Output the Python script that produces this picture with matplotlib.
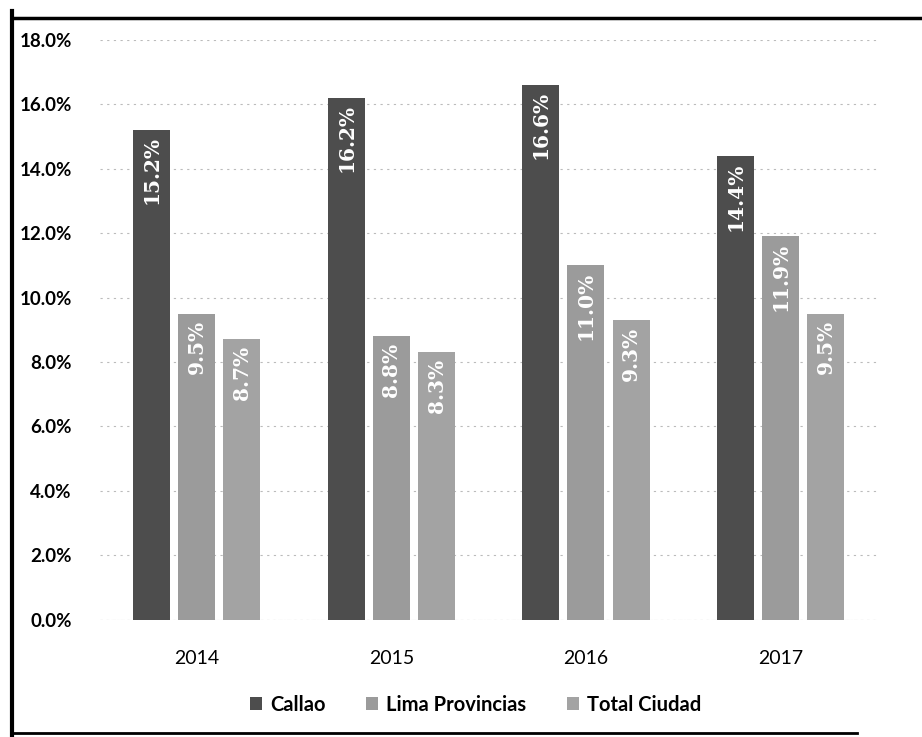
import matplotlib
matplotlib.use("Agg")
import matplotlib.pyplot as plt
import numpy as np
from matplotlib.lines import Line2D

years = ["2014", "2015", "2016", "2017"]
series_names = ["Callao", "Lima Provincias", "Total Ciudad"]
callao = [15.2, 16.2, 16.6, 14.4]
lima_prov = [9.5, 8.8, 11.0, 11.9]
total_ciudad = [8.7, 8.3, 9.3, 9.5]
y_ticks = [0, 2, 4, 6, 8, 10, 12, 14, 16, 18]

colors = ["#4d4d4d", "#9b9b9b", "#a3a3a3"]

fig = plt.figure(figsize=(9.22, 7.37), dpi=100)
ax = fig.add_axes([0.108, 0.159, 0.844, 0.787])

x = np.arange(len(years))
width = 0.19
step = 0.232
for i, (vals, name) in enumerate(zip([callao, lima_prov, total_ciudad], series_names)):
    pos = x + (i - 1) * step
    bars = ax.bar(pos, vals, width, color=colors[i], label=name, zorder=2)
    for p, v in zip(pos, vals):
        ax.text(p, v - 0.2, f"{v:.1f}%", rotation=90, ha="center", va="top",
                color="white", fontsize=14.5, fontweight="bold",
                family="DejaVu Serif", zorder=3)

ax.set_xlim(-0.5, 3.5)
ax.set_ylim(0, 18)
ax.set_yticks(y_ticks)
ax.set_yticklabels([f"{t:.1f}%" for t in y_ticks], fontsize=13.5, fontweight="bold", family="Lato")
ax.set_xticks(x)
ax.set_xticklabels(years, fontsize=14, family="Lato")
ax.tick_params(axis="x", length=0, pad=22)
ax.tick_params(axis="y", length=0, pad=20)
for s in ax.spines.values():
    s.set_visible(False)
ax.grid(axis="y", color="#bbbbbb", linestyle=(0, (2, 4)), linewidth=0.8, zorder=0)
ax.axhline(0, color="#cccccc", linewidth=0.8, linestyle=(0, (2, 3)), zorder=1)

leg = fig.legend(loc="center", bbox_to_anchor=(0.516, 0.044), ncol=3, frameon=False,
                 prop={"family": "Lato", "weight": "bold", "size": 14.5},
                 handlelength=0.6, handleheight=0.6, columnspacing=2.0, handletextpad=0.4)

# outer frame
fig.add_artist(Line2D([0.013, 0.013], [0.003, 0.985], transform=fig.transFigure, color="black", linewidth=3))
fig.add_artist(Line2D([0.013, 1.0], [0.975, 0.975], transform=fig.transFigure, color="black", linewidth=2.5))
fig.add_artist(Line2D([0.013, 0.93], [0.006, 0.006], transform=fig.transFigure, color="black", linewidth=2))

fig.savefig("out.png", dpi=100, facecolor="white")
